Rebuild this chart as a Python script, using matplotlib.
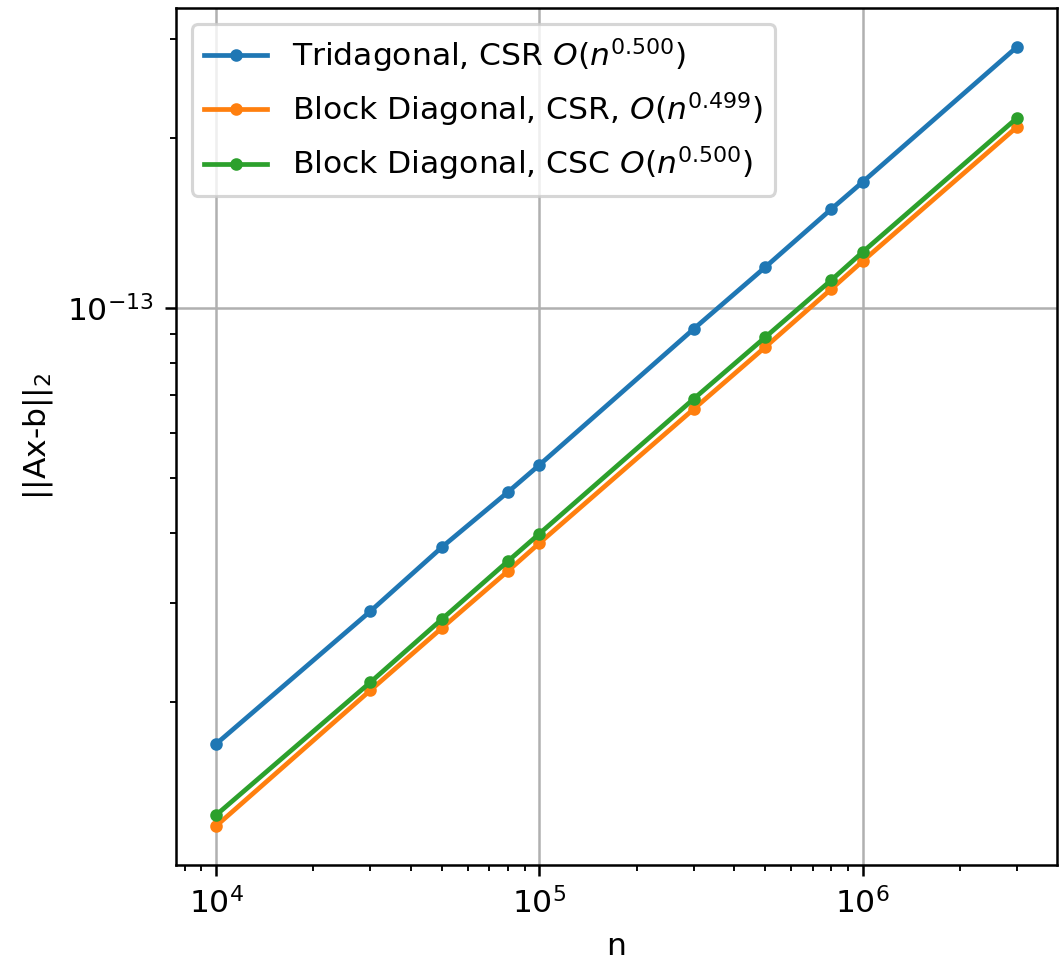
import matplotlib
matplotlib.use("Agg")
import matplotlib.pyplot as plt

n = [1e4, 3e4, 5e4, 8e4, 1e5, 3e5, 5e5, 8e5, 1e6, 3e6]
tri_csr = [1.687e-14, 2.90e-14, 3.77e-14, 4.72e-14, 5.27e-14, 9.18e-14,
           1.182e-13, 1.498e-13, 1.673e-13, 2.903e-13]
block_csr = [1.207e-14, 2.10e-14, 2.71e-14, 3.42e-14, 3.83e-14, 6.62e-14,
             8.53e-14, 1.081e-13, 1.211e-13, 2.094e-13]
block_csc = [1.262e-14, 2.17e-14, 2.81e-14, 3.56e-14, 3.98e-14, 6.90e-14,
             8.88e-14, 1.121e-13, 1.257e-13, 2.172e-13]
labels = [r"Tridagonal, CSR $O(n^{0.500})$",
          r"Block Diagonal, CSR, $O(n^{0.499})$",
          r"Block Diagonal, CSC $O(n^{0.500})$"]

dpi = 226
fig = plt.figure(figsize=(1063 / dpi, 956 / dpi), dpi=dpi)
ax = fig.add_axes([176 / 1063, 1 - 865 / 956, (1057 - 176) / 1063, (865 - 8) / 956])
for ys, lab in zip([tri_csr, block_csr, block_csc], labels):
    ax.loglog(n, ys, '.-', label=lab)
ax.grid(True)
ax.set_xlabel("n")
ax.set_ylabel("||Ax-b||$_2$")
ax.legend(loc="upper left")
fig.savefig("out.png", dpi=dpi)
